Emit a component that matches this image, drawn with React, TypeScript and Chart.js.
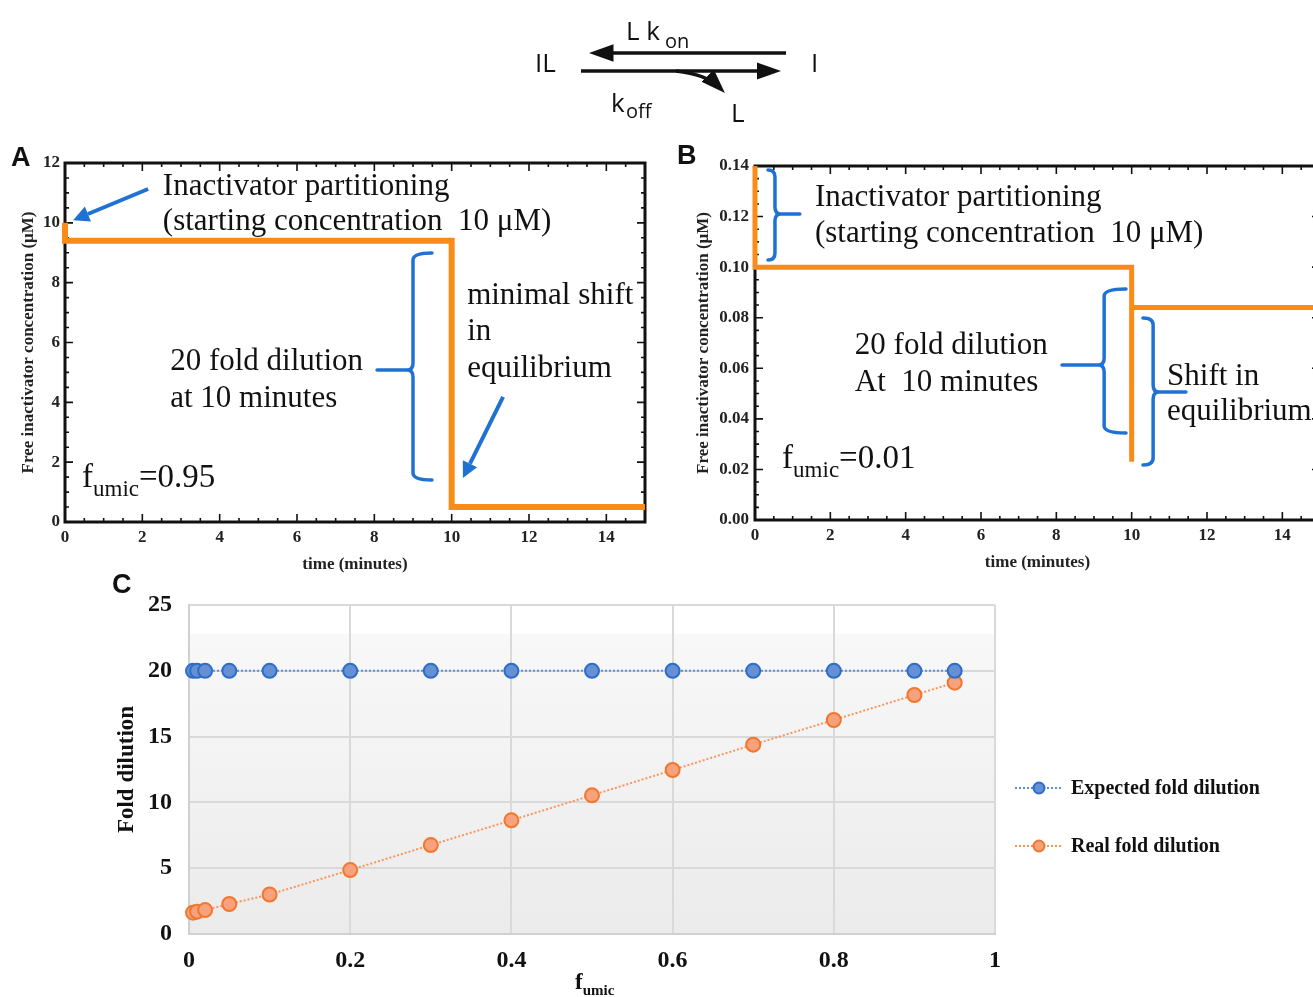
import React, { useEffect, useRef } from 'react';
import { Chart, registerables } from 'chart.js';

Chart.register(...registerables);

// ---------- Panel A data (f_umic = 0.95) ----------
const timeA = [0, 0, 10, 10, 15];
const concA = [10, 9.4, 9.4, 0.5, 0.5];
const xTicksA = [0, 2, 4, 6, 8, 10, 12, 14];
const yTicksA = [0, 2, 4, 6, 8, 10, 12];

// ---------- Panel B data (f_umic = 0.01) ----------
const timeB = [0, 0, 10, 10, 10, 15];
const concB = [0.14, 0.1, 0.1, 0.023, 0.084, 0.084];
const xTicksB = [0, 2, 4, 6, 8, 10, 12, 14];
const yTicksB = [0, 0.02, 0.04, 0.06, 0.08, 0.1, 0.12, 0.14];

// ---------- Panel C data ----------
const fumic = [0.005, 0.01, 0.02, 0.05, 0.1, 0.2, 0.3, 0.4, 0.5, 0.6, 0.7, 0.8, 0.9, 0.95];
const expectedFold = [20, 20, 20, 20, 20, 20, 20, 20, 20, 20, 20, 20, 20, 20];
const realFold = [1.62, 1.7, 1.82, 2.28, 3.0, 4.86, 6.76, 8.64, 10.54, 12.46, 14.39, 16.26, 18.16, 19.1];
const seriesNames = ['Expected fold dilution', 'Real fold dilution'];
const xTicksC = [0, 0.2, 0.4, 0.6, 0.8, 1];
const yTicksC = [0, 5, 10, 15, 20, 25];

// ---------- annotation texts (data coordinates) ----------
const textsA = [
  { x: 2.53, y: 10.93, t: 'Inactivator partitioning' },
  { x: 2.53, y: 9.76, t: '(starting concentration  10 \u03bcM)' },
  { x: 2.72, y: 5.08, t: '20 fold dilution' },
  { x: 2.72, y: 3.84, t: 'at 10 minutes' },
  { x: 10.4, y: 7.29, t: 'minimal shift' },
  { x: 10.4, y: 6.08, t: 'in' },
  { x: 10.4, y: 4.85, t: 'equilibrium' },
];
const textsB = [
  { x: 1.59, y: 0.1242, t: 'Inactivator partitioning' },
  { x: 1.59, y: 0.1099, t: '(starting concentration  10 \u03bcM)' },
  { x: 2.65, y: 0.0656, t: '20 fold dilution' },
  { x: 2.65, y: 0.051, t: 'At  10 minutes' },
  { x: 10.94, y: 0.0534, t: 'Shift in' },
  { x: 10.94, y: 0.0395, t: 'equilibrium' },
];
const fumicLabelA = { x: 0.44, y: 1.17, v: '=0.95' };
const fumicLabelB = { x: 0.72, y: 0.0206, v: '=0.01' };
// arrows: tail -> head
const arrowsA = [
  { x1: 2.15, y1: 11.13, x2: 0.21, y2: 10.09 },
  { x1: 11.33, y1: 4.18, x2: 10.29, y2: 1.47 },
];
// braces: vertical x, top, bottom, middle, end-tip x, arm x
const bracesA = [{ xv: 9.0, top: 8.99, bottom: 1.4, mid: 5.08, tip: 9.49, arm: 8.07 }];
const bracesB = [
  { xv: 0.53, top: 0.1384, bottom: 0.1028, mid: 0.121, tip: 0.345, arm: 1.19 },
  { xv: 9.27, top: 0.0914, bottom: 0.0344, mid: 0.0613, tip: 9.85, arm: 8.15 },
  { xv: 10.57, top: 0.0799, bottom: 0.0218, mid: 0.0506, tip: 10.3, arm: 11.44 },
];

const SERIF = '"Liberation Serif", "Times New Roman", serif';
const ORANGE = '#fb8b17';
const BLUE = '#1f72d3';

function drawArrow(ctx: CanvasRenderingContext2D, x1: number, y1: number, x2: number, y2: number) {
  const ang = Math.atan2(y2 - y1, x2 - x1);
  const hl = 16, hw = 8;
  const bx = x2 - hl * Math.cos(ang), by = y2 - hl * Math.sin(ang);
  ctx.save();
  ctx.strokeStyle = BLUE; ctx.fillStyle = BLUE; ctx.lineWidth = 4; ctx.lineCap = 'butt';
  ctx.beginPath(); ctx.moveTo(x1, y1); ctx.lineTo(bx, by); ctx.stroke();
  ctx.beginPath();
  ctx.moveTo(x2, y2);
  ctx.lineTo(bx + hw * Math.sin(ang), by - hw * Math.cos(ang));
  ctx.lineTo(bx - hw * Math.sin(ang), by + hw * Math.cos(ang));
  ctx.closePath(); ctx.fill();
  ctx.restore();
}

function drawBrace(ctx: CanvasRenderingContext2D, xv: number, top: number, bottom: number, mid: number, tip: number, arm: number) {
  const r = 7, c = 6;
  const ds = Math.sign(arm - xv);
  ctx.save();
  ctx.strokeStyle = BLUE; ctx.lineWidth = 3.5; ctx.lineJoin = 'round'; ctx.lineCap = 'round';
  ctx.beginPath();
  ctx.moveTo(tip, top);
  ctx.quadraticCurveTo(xv, top, xv, top + r);
  ctx.lineTo(xv, mid - r);
  ctx.quadraticCurveTo(xv, mid, xv + ds * c, mid);
  ctx.quadraticCurveTo(xv, mid, xv, mid + r);
  ctx.lineTo(xv, bottom - r);
  ctx.quadraticCurveTo(xv, bottom, tip, bottom);
  ctx.moveTo(xv + ds * c, mid);
  ctx.lineTo(arm, mid);
  ctx.stroke();
  ctx.restore();
}

function drawFumic(ctx: CanvasRenderingContext2D, x: number, y: number, value: string, big: number, small: number, bold = false) {
  ctx.save();
  ctx.fillStyle = '#111';
  ctx.textBaseline = 'alphabetic';
  ctx.textAlign = 'left';
  const w = bold ? 'bold ' : '';
  ctx.font = `${w}${big}px ${SERIF}`;
  ctx.fillText('f', x, y);
  let cx = x + ctx.measureText('f').width;
  ctx.font = `${w}${small}px ${SERIF}`;
  ctx.fillText('umic', cx, y + small * 0.38);
  cx += ctx.measureText('umic').width;
  if (value) {
    ctx.font = `${w}${big}px ${SERIF}`;
    ctx.fillText(value, cx, y);
  }
  ctx.restore();
}

function framePlugin(majorX: number, minorX: number, majorY: number, minorY: number) {
  return {
    id: 'frameTicks',
    beforeDatasetsDraw(chart: any) {
      const { ctx, chartArea: a, scales } = chart;
      const sx = scales.x, sy = scales.y;
      ctx.save();
      ctx.strokeStyle = '#111';
      ctx.lineWidth = 1.6;
      const nX = Math.round((sx.max - sx.min) / minorX);
      for (let i = 0; i <= nX; i++) {
        const v = sx.min + i * minorX;
        const isMajor = Math.abs(v / majorX - Math.round(v / majorX)) < 1e-6;
        const L = isMajor ? 8 : 4;
        const px = sx.getPixelForValue(v);
        ctx.beginPath();
        ctx.moveTo(px, a.bottom); ctx.lineTo(px, a.bottom - L);
        ctx.moveTo(px, a.top); ctx.lineTo(px, a.top + L);
        ctx.stroke();
      }
      const nY = Math.round((sy.max - sy.min) / minorY);
      for (let i = 0; i <= nY; i++) {
        const v = sy.min + i * minorY;
        const isMajor = Math.abs(v / majorY - Math.round(v / majorY)) < 1e-6;
        const L = isMajor ? 8 : 4;
        const py = sy.getPixelForValue(v);
        ctx.beginPath();
        ctx.moveTo(a.left, py); ctx.lineTo(a.left + L, py);
        ctx.moveTo(a.right, py); ctx.lineTo(a.right - L, py);
        ctx.stroke();
      }
      ctx.lineWidth = 3;
      ctx.strokeRect(a.left, a.top, a.right - a.left, a.bottom - a.top);
      ctx.restore();
    },
  };
}

function annotationPlugin(texts: any[], arrows: any[], braces: any[], fl: any) {
  return {
    id: 'annotations',
    afterDraw(chart: any) {
      const { ctx, scales } = chart;
      const X = (v: number) => scales.x.getPixelForValue(v);
      const Y = (v: number) => scales.y.getPixelForValue(v);
      braces.forEach((b) => drawBrace(ctx, X(b.xv), Y(b.top), Y(b.bottom), Y(b.mid), X(b.tip), X(b.arm)));
      arrows.forEach((a) => drawArrow(ctx, X(a.x1), Y(a.y1), X(a.x2), Y(a.y2)));
      ctx.save();
      ctx.fillStyle = '#111';
      ctx.font = `31px ${SERIF}`;
      ctx.textAlign = 'left';
      ctx.textBaseline = 'alphabetic';
      texts.forEach((t) => ctx.fillText(t.t, X(t.x), Y(t.y)));
      ctx.restore();
      drawFumic(ctx, X(fl.x), Y(fl.y), fl.v, 33, 23);
    },
  };
}

function stepChartConfig(opts: any) {
  const { times, conc, xTicks, yTicks, xMax, yMax, yFmt, lineW, pad, yW, xH, yTitlePad, xTitlePad, yTickPad, texts, arrows, braces, fl, minorY, majorY } = opts;
  return {
    type: 'scatter',
    data: {
      datasets: [
        {
          data: times.map((t: number, i: number) => ({ x: t, y: conc[i] })),
          showLine: true,
          borderColor: ORANGE,
          borderWidth: lineW,
          pointRadius: 0,
          fill: false,
          tension: 0,
          clip: false,
          borderJoinStyle: 'miter',
        },
      ],
    },
    options: {
      responsive: false,
      animation: false,
      devicePixelRatio: 1,
      layout: { padding: pad },
      plugins: { legend: { display: false }, tooltip: { enabled: false } },
      scales: {
        x: {
          type: 'linear', min: 0, max: xMax,
          grid: { display: false, drawTicks: false }, border: { display: false },
          afterBuildTicks: (s: any) => { s.ticks = xTicks.map((v: number) => ({ value: v })); },
          afterFit: (s: any) => { s.height = xH; },
          ticks: { color: '#222', padding: 5, maxRotation: 0, callback: (v: number) => String(v), font: { family: SERIF, size: 17, weight: 'bold' } },
          title: { display: true, text: 'time (minutes)', color: '#222', padding: { top: 0, bottom: xTitlePad }, font: { family: SERIF, size: 17, weight: 'bold' } },
        },
        y: {
          type: 'linear', min: 0, max: yMax,
          grid: { display: false, drawTicks: false }, border: { display: false },
          afterBuildTicks: (s: any) => { s.ticks = yTicks.map((v: number) => ({ value: v })); },
          afterFit: (s: any) => { s.width = yW; },
          ticks: { color: '#222', padding: yTickPad, callback: yFmt, font: { family: SERIF, size: 17, weight: 'bold' } },
          title: { display: true, text: 'Free inactivator concentration (\u03bcM)', color: '#222', padding: { top: yTitlePad, bottom: 0 }, font: { family: SERIF, size: 17, weight: 'bold' } },
        },
      },
    },
    plugins: [framePlugin(2, 0.5, majorY, minorY), annotationPlugin(texts, arrows, braces, fl)],
  };
}

const configA = () =>
  stepChartConfig({
    times: timeA, conc: concA, xTicks: xTicksA, yTicks: yTicksA, xMax: 15, yMax: 12,
    yFmt: (v: number) => String(v), lineW: 6, yTickPad: 5,
    pad: { left: 0, top: 23, right: 15, bottom: 0 }, yW: 65, xH: 58, yTitlePad: 18, xTitlePad: 5,
    texts: textsA, arrows: arrowsA, braces: bracesA, fl: fumicLabelA, majorY: 2, minorY: 0.5,
  });

const configB = () =>
  stepChartConfig({
    times: timeB, conc: concB, xTicks: xTicksB, yTicks: yTicksB, xMax: 15, yMax: 0.14,
    yFmt: (v: number) => v.toFixed(2), lineW: 5, yTickPad: 6,
    pad: { left: 0, top: 26, right: 20, bottom: 0 }, yW: 95, xH: 60, yTitlePad: 33, xTitlePad: 7,
    texts: textsB, arrows: [], braces: bracesB, fl: fumicLabelB, majorY: 0.02, minorY: 0.005,
  });

const cStyles = [
  { line: '#5b8fdb', fill: '#6590d3', border: '#2d6cc8' },
  { line: '#f8955a', fill: '#f6a27c', border: '#f4762c' },
];

const configC = () => ({
  type: 'scatter',
  data: {
    datasets: [expectedFold, realFold].map((vals, k) => ({
      label: seriesNames[k],
      data: fumic.map((f, i) => ({ x: f, y: vals[i] })),
      showLine: true,
      borderColor: cStyles[k].line,
      borderWidth: 2,
      borderDash: [2, 2],
      pointRadius: 7,
      pointBorderWidth: 2,
      pointBackgroundColor: cStyles[k].fill,
      pointBorderColor: cStyles[k].border,
      clip: false,
    })),
  },
  options: {
    responsive: false,
    animation: false,
    devicePixelRatio: 1,
    layout: { padding: { left: 0, top: 15, right: 318, bottom: 0 } },
    plugins: { legend: { display: false }, tooltip: { enabled: false } },
    scales: {
      x: {
        type: 'linear', min: 0, max: 1,
        afterBuildTicks: (s: any) => { s.ticks = xTicksC.map((v) => ({ value: v })); },
        afterFit: (s: any) => { s.height = 63; },
        grid: { color: '#d9d9d9', lineWidth: 2, drawTicks: false },
        border: { color: '#d0d0d0', width: 2 },
        ticks: { color: '#111', padding: 12, maxRotation: 0, callback: (v: number) => String(v), font: { family: SERIF, size: 24, weight: 'bold' } },
      },
      y: {
        type: 'linear', min: 0, max: 25,
        afterBuildTicks: (s: any) => { s.ticks = yTicksC.map((v) => ({ value: v })); },
        afterFit: (s: any) => { s.width = 89; },
        grid: { color: '#d9d9d9', lineWidth: 2, drawTicks: true, tickLength: 17, tickColor: 'rgba(0,0,0,0)' },
        border: { color: '#d0d0d0', width: 2 },
        ticks: { color: '#111', padding: 0, callback: (v: number) => String(v), font: { family: SERIF, size: 24, weight: 'bold' } },
        title: { display: true, text: 'Fold dilution', color: '#111', padding: { top: 13, bottom: 0 }, font: { family: SERIF, size: 23, weight: 'bold' } },
      },
    },
  },
  plugins: [
    {
      id: 'cBackground',
      beforeDraw(chart: any) {
        const { ctx, chartArea: a } = chart;
        const g = ctx.createLinearGradient(0, a.top, 0, a.bottom);
        g.addColorStop(0, '#ffffff');
        g.addColorStop(0.085, '#ffffff');
        g.addColorStop(0.09, '#f8f8f8');
        g.addColorStop(1, '#ebebeb');
        ctx.save();
        ctx.fillStyle = g;
        ctx.fillRect(a.left, a.top, a.right - a.left, a.bottom - a.top);
        ctx.restore();
      },
    },
    {
      id: 'cLegendAndTitle',
      afterDraw(chart: any) {
        const { ctx, chartArea: a } = chart;
        // x axis title f_umic
        const cx = (a.left + a.right) / 2;
        drawFumic(ctx, cx - 17, a.bottom + 55, '', 23, 15, true);
        // legend
        const lx = a.right + 20;
        const rows = [a.top + 183, a.top + 241];
        chart.data.datasets.forEach((ds: any, k: number) => {
          const y = rows[k];
          ctx.save();
          ctx.strokeStyle = ds.borderColor;
          ctx.lineWidth = 2;
          ctx.setLineDash([2, 2]);
          ctx.beginPath(); ctx.moveTo(lx, y); ctx.lineTo(lx + 48, y); ctx.stroke();
          ctx.setLineDash([]);
          ctx.fillStyle = ds.pointBackgroundColor;
          ctx.strokeStyle = ds.pointBorderColor;
          ctx.beginPath(); ctx.arc(lx + 24, y, 5.5, 0, Math.PI * 2); ctx.fill(); ctx.stroke();
          ctx.fillStyle = '#111';
          ctx.font = `bold 20px ${SERIF}`;
          ctx.textBaseline = 'middle';
          ctx.textAlign = 'left';
          ctx.fillText(ds.label, lx + 56, y + 1);
          ctx.restore();
        });
      },
    },
  ],
});

function ChartBox({ left, top, width, height, make }: any) {
  const ref = useRef<HTMLCanvasElement>(null);
  useEffect(() => {
    const chart = new Chart(ref.current as HTMLCanvasElement, make());
    return () => chart.destroy();
  }, []);
  return (
    <canvas
      ref={ref}
      width={width}
      height={height}
      style={{ position: 'absolute', left, top, width, height, display: 'block' }}
    />
  );
}

const SANS = '"Open Sans", "Noto Sans", sans-serif';

function Scheme() {
  return (
    <svg width={1313} height={997} style={{ position: 'absolute', left: 0, top: 0, pointerEvents: 'none' }}>
      <defs>
        <marker id="ah" markerWidth="7" markerHeight="5" refX="5" refY="2.5" orient="auto" markerUnits="strokeWidth">
          <path d="M0,0 L7,2.5 L0,5 z" fill="#111" />
        </marker>
      </defs>
      <g fontFamily={SANS} fill="#111">
        <text x={535} y={72} fontSize={26}>IL</text>
        <text x={811} y={72} fontSize={26}>I</text>
        <text x={626} y={40} fontSize={26}>L k</text>
        <text x={665} y={48} fontSize={20}>on</text>
        <text x={611} y={112} fontSize={26}>k</text>
        <text x={626} y={118} fontSize={20}>off</text>
        <text x={731} y={122} fontSize={26}>L</text>
      </g>
      <line x1={786} y1={53} x2={596} y2={53} stroke="#111" strokeWidth={3.5} markerEnd="url(#ah)" />
      <line x1={581} y1={71} x2={774} y2={71} stroke="#111" strokeWidth={3.5} markerEnd="url(#ah)" />
      <path d="M676,71 Q706,74 720,88" fill="none" stroke="#111" strokeWidth={3.5} markerEnd="url(#ah)" />
      <g fontFamily='"Liberation Sans", Arial, sans-serif' fontWeight="bold" fill="#111" fontSize={27}>
        <text x={11} y={166}>A</text>
        <text x={677} y={164}>B</text>
        <text x={112} y={593}>C</text>
      </g>
    </svg>
  );
}

export default function App() {
  return (
    <div style={{ position: 'absolute', left: 0, top: 0, width: 1313, height: 997, overflow: 'hidden', background: '#fff' }}>
      <ChartBox left={0} top={140} width={660} height={440} make={configA} />
      <ChartBox left={660} top={140} width={680} height={440} make={configB} />
      <ChartBox left={100} top={590} width={1213} height={407} make={configC} />
      <Scheme />
    </div>
  );
}
